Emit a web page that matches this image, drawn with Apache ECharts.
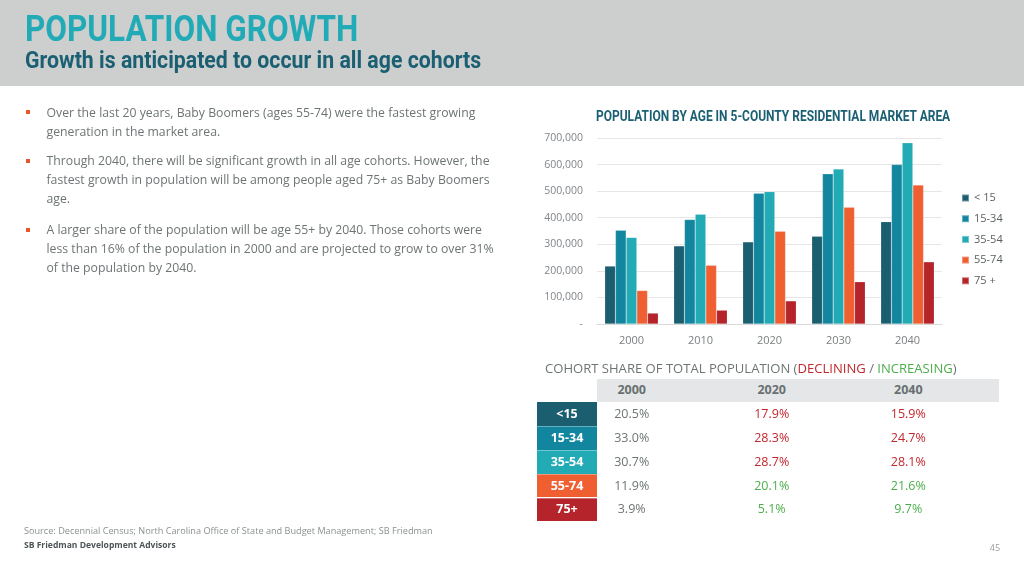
<!DOCTYPE html>
<html>
<head>
<meta charset="utf-8">
<script src="https://cdn.jsdelivr.net/npm/echarts@6/dist/echarts.min.js"></script>
<style>
  html, body { margin: 0; padding: 0; width: 1024px; height: 569px; overflow: hidden; background: #ffffff; font-family: "Open Sans", "Noto Sans", sans-serif; }
  #chart { position: absolute; left: 0; top: 0; width: 1024px; height: 569px; z-index: 1; }
  .abs { position: absolute; white-space: nowrap; z-index: 2; }
  .cond { font-family: Roboto, "Liberation Sans", sans-serif; font-weight: bold; transform-origin: left center; }
  #band { position: absolute; left: 0; top: 0; width: 1024px; height: 86px; background: #cdcfcf; z-index: 0; }
  .bullet { position: absolute; width: 4px; height: 4px; background: #e8562a; z-index: 2; }
  .btxt { color: #6e7474; font-size: 12px; }
</style>
</head>
<body>
<div id="band"></div>
<div id="chart"></div>
<div id="slide"></div>
<script>
// ---- Bar chart data ----
const categories = ['2000', '2010', '2020', '2030', '2040'];
const cohortNames = ['< 15', '15-34', '35-54', '55-74', '75 +'];
const under15   = [218000, 294000, 309000, 330000, 385000];
const age15to34 = [353000, 393000, 492000, 565000, 600000];
const age35to54 = [326000, 413000, 498000, 583000, 682000];
const age55to74 = [126000, 221000, 349000, 439000, 523000];
const age75plus = [41000, 52000, 87000, 159000, 234000];
const yMax = 700000;
const yInterval = 100000;

// ---- Cohort share table data ----
const shareYears = ['2000', '2020', '2040'];
const shareLabels = ['<15', '15-34', '35-54', '55-74', '75+'];
const share2000 = [20.5, 33.0, 30.7, 11.9, 3.9];
const share2020 = [17.9, 28.3, 28.7, 20.1, 5.1];
const share2040 = [15.9, 24.7, 28.1, 21.6, 9.7];

// ---- Slide texts ----
const slideTitle = 'POPULATION GROWTH';
const slideSubtitle = 'Growth is anticipated to occur in all age cohorts';
const bulletLines = [
  ['Over the last 20 years, Baby Boomers (ages 55-74) were the fastest growing',
   'generation in the market area.'],
  ['Through 2040, there will be significant growth in all age cohorts. However, the',
   'fastest growth in population will be among people aged 75+ as Baby Boomers',
   'age.'],
  ['A larger share of the population will be age 55+ by 2040. Those cohorts were',
   'less than 16% of the population in 2000 and are projected to grow to over 31%',
   'of the population by 2040.']
];
const chartTitle = 'POPULATION BY AGE IN 5-COUNTY RESIDENTIAL MARKET AREA';
const sourceText = 'Source: Decennial Census; North Carolina Office of State and Budget Management; SB Friedman';
const companyText = 'SB Friedman Development Advisors';
const pageNumber = '45';

const cohortColors = ['#1b5e6f', '#12869f', '#22abb5', '#ef5f31', '#b5232b'];
const seriesData = [under15, age15to34, age35to54, age55to74, age75plus];

// ---- ECharts bar chart ----
const chart = echarts.init(document.getElementById('chart'), null, { renderer: 'canvas' });
chart.setOption({
  backgroundColor: 'transparent',
  animation: false,
  textStyle: { fontFamily: '"Open Sans", "Noto Sans", sans-serif' },
  grid: { left: 597, top: 138, width: 345, height: 186, containLabel: false },
  legend: {
    orient: 'vertical', left: 961, top: 191, padding: 0,
    itemWidth: 7, itemHeight: 7, itemGap: 6.7, icon: 'rect',
    textStyle: { color: '#5a5f60', fontSize: 11, lineHeight: 14 },
    data: cohortNames
  },
  xAxis: {
    type: 'category', data: categories,
    axisLine: { lineStyle: { color: '#d9d9d9', width: 1 } },
    axisTick: { show: false },
    axisLabel: { color: '#7a7f80', fontSize: 11, margin: 11 }
  },
  yAxis: {
    type: 'value', min: 0, max: yMax, interval: yInterval,
    axisLine: { show: false }, axisTick: { show: false },
    splitLine: { lineStyle: { color: '#e6e6e6', width: 1 } },
    axisLabel: {
      color: '#80868a', fontSize: 10.5, margin: 14,
      formatter: v => v === 0 ? '-' : v.toLocaleString('en-US')
    }
  },
  series: cohortNames.map((name, i) => ({
    name: name, type: 'bar', data: seriesData[i],
    barGap: '0%', barCategoryGap: '22.5%',
    itemStyle: { color: cohortColors[i], borderColor: 'rgba(255,255,255,0.35)', borderWidth: 0.5 }
  }))
});

// ---- Slide HTML ----
const slide = document.getElementById('slide');
function addText(txt, left, centerY, lineH, styles, cls) {
  const d = document.createElement('div');
  d.className = 'abs' + (cls ? ' ' + cls : '');
  d.textContent = txt;
  d.style.left = left + 'px';
  d.style.top = (centerY - lineH / 2) + 'px';
  d.style.lineHeight = lineH + 'px';
  d.style.height = lineH + 'px';
  Object.assign(d.style, styles || {});
  slide.appendChild(d);
  return d;
}
function addBox(left, top, w, h, bg) {
  const d = document.createElement('div');
  d.className = 'abs';
  Object.assign(d.style, { left: left + 'px', top: top + 'px', width: w + 'px', height: h + 'px', background: bg });
  slide.appendChild(d);
  return d;
}
const fits = [];

// Title & subtitle
fits.push([addText(slideTitle, 25, 28.6, 40, { fontSize: '37px', color: '#22abb6' }, 'cond'), 333, 'scale']);
fits.push([addText(slideSubtitle, 25, 60.3, 28, { fontSize: '23.5px', color: '#1b5f73' }, 'cond'), 456.5, 'scale']);

// Bullets
const paraStarts = [112.5, 161, 230.2];
const lineStep = 19;
const bulletEls = [];
bulletLines.forEach((lines, p) => {
  const b = document.createElement('div');
  b.className = 'bullet';
  b.style.left = '25.5px';
  b.style.top = (paraStarts[p] - 2.5) + 'px';
  slide.appendChild(b);
  lines.forEach((ln, k) => {
    bulletEls.push(addText(ln, 46.5, paraStarts[p] + k * lineStep, 18, {}, 'btxt'));
  });
});

// Chart title
fits.push([addText(chartTitle, 596, 115.8, 18, { fontSize: '14px', color: '#1b5f73' }, 'cond'), 354, 'scale']);

// Table title
const tt = document.createElement('div');
tt.className = 'abs';
tt.style.left = '545px'; tt.style.top = (367.5 - 9) + 'px'; tt.style.lineHeight = '18px';
tt.style.fontSize = '12px'; tt.style.color = '#6e7474';
tt.innerHTML = 'COHORT SHARE OF TOTAL POPULATION (<span style="color:#c1272d">DECLINING</span> / <span style="color:#4cae4c">INCREASING</span>)';
slide.appendChild(tt);
fits.push([tt, 412, 'font']);

// Table
const colCenters = [631.7, 771.7, 908.3];
addBox(597, 378.5, 402, 23.5, '#e4e6e7');
shareYears.forEach((y, j) => {
  addText(y, colCenters[j] - 50, 390, 18, { width: '100px', textAlign: 'center', fontSize: '12.5px', fontWeight: 'bold', color: '#687072' });
});
const rowTop = 402.3, rowH = 23.8;
const shareCols = [share2000, share2020, share2040];
shareLabels.forEach((lab, i) => {
  const top = rowTop + i * rowH;
  const cell = addBox(537, top, 60, rowH, cohortColors[i]);
  if (i > 0) cell.style.borderTop = '1px solid rgba(255,255,255,0.35)';
  cell.style.boxSizing = 'border-box';
  const cy = top + rowH / 2;
  addText(lab, 537, cy, 18, { width: '60px', textAlign: 'center', fontSize: '12.5px', fontWeight: 'bold', color: '#ffffff' });
  shareCols.forEach((col, j) => {
    let color = '#6e7474';
    if (j > 0) color = col[i] < share2000[i] ? '#c1272d' : '#4cae4c';
    addText(col[i].toFixed(1) + '%', colCenters[j] - 50, cy, 18, { width: '100px', textAlign: 'center', fontSize: '12.5px', color: color });
  });
});

// Footer
fits.push([addText(sourceText, 24, 531, 12, { fontSize: '9px', color: '#8c9090' }), 409, 'font']);
fits.push([addText(companyText, 24, 545, 12, { fontSize: '9px', fontWeight: 'bold', color: '#4d5557' }), 152, 'font']);
addText(pageNumber, 985, 548, 12, { width: '20px', textAlign: 'center', fontSize: '9px', color: '#9a9e9f' });

function applyFits() {
  fits.forEach(([el, target, mode]) => {
    const w = el.scrollWidth;
    if (!w) return;
    if (mode === 'scale') {
      el.style.transform = 'scaleX(' + (target / w) + ')';
    } else {
      const fs = parseFloat(el.style.fontSize);
      el.style.fontSize = (fs * target / w) + 'px';
    }
  });
  // bullet text: fit font-size using the widest reference line
  const ref = bulletEls[3];
  const w = ref.scrollWidth;
  if (w) {
    const fs = 12 * 443.5 / w;
    bulletEls.forEach(e => { e.style.fontSize = fs + 'px'; });
  }
}
applyFits();
if (document.fonts && document.fonts.ready) {
  document.fonts.ready.then(() => { fits.forEach(f => { f[0].style.transform = ''; }); bulletEls.forEach(e => e.style.fontSize = '12px'); 
    // reset font sizes for font-mode fits
    applyFits(); });
}
</script>
</body>
</html>
